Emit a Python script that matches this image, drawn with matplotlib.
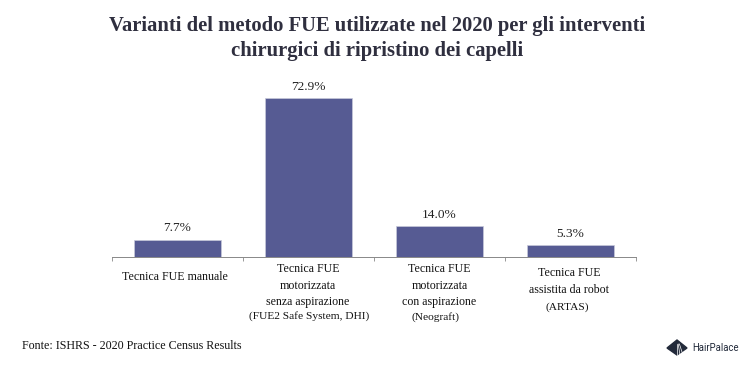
import matplotlib
matplotlib.use("Agg")
import matplotlib.pyplot as plt

categories = ["Tecnica FUE manuale",
              "Tecnica FUE\nmotorizzata\nsenza aspirazione",
              "Tecnica FUE\nmotorizzata\ncon aspirazione",
              "Tecnica FUE\nassistita da robot"]
notes = ["", "(FUE2 Safe System, DHI)", "(Neograft)", "(ARTAS)"]
values = [7.7, 72.9, 14.0, 5.3]
bar_color = "#565b93"

plt.rcParams['font.family'] = ['Liberation Serif', 'DejaVu Serif']

fig = plt.figure(figsize=(7.53, 3.69), dpi=100)
ax = fig.add_axes([112/753, 1-256.5/369, (636-112)/753, (256.5-85)/369])

x = list(range(len(values)))
ax.bar(x, values, width=0.665, color=bar_color, edgecolor="#c8c9da", linewidth=0.5)
for i, v in enumerate(values):
    ax.annotate("%.1f%%" % v, (i, v), xytext=(0, 3.8), textcoords="offset points",
                ha="center", va="bottom", fontsize=9.6, color="#222222")

ax.set_xlim(-0.5, 3.5)
ax.set_ylim(0, 78.8)
ax.set_yticks([])
ax.set_xticks([-0.5, 0.5, 1.5, 2.5, 3.5])
ax.set_xticklabels([])
ax.tick_params(axis='x', length=3, width=0.6, color="#888888")
for s in ['top', 'left', 'right']:
    ax.spines[s].set_visible(False)
ax.spines['bottom'].set_color("#888888")
ax.spines['bottom'].set_linewidth(0.7)

# pixel rows of the label blocks, by hand
label_x = [175, 308, 439.5, 569]
label_y = [271, 263.5, 263.5, 267.5]
note_x = [0, 309.5, 435.5, 567]
note_y = [0, 316.5, 317, 307]
for i, c in enumerate(categories):
    fig.text(label_x[i]/753, 1-label_y[i]/369, c, ha="center", va="top",
             fontsize=8.6, linespacing=1.5, color="#111111")
    if notes[i]:
        fig.text(note_x[i]/753, 1-note_y[i]/369, notes[i], ha="center", va="center",
                 fontsize=8.2, color="#111111")

fig.text(377/753, 1-26/369, "Varianti del metodo FUE utilizzate nel 2020 per gli interventi",
         ha="center", va="center", fontsize=14.9, fontweight="bold", color="#2f2f3f")
fig.text(377/753, 1-51/369, "chirurgici di ripristino dei capelli",
         ha="center", va="center", fontsize=14.9, fontweight="bold", color="#2f2f3f")
fig.text(22/753, 1-346/369, "Fonte: ISHRS - 2020 Practice Census Results", ha="left", va="center",
         fontsize=8.65, color="#111111")
fig.text(692/753, 1-348/369, "HairPalace", ha="left", va="center", fontsize=6.9,
         family="Roboto", color="#222a3a")

# logo
fig.add_artist(plt.Polygon([(667/753, 1-348/369), (677/753, 1-340/369), (687/753, 1-348/369), (677/753, 1-355/369)],
                           transform=fig.transFigure, color="#222a3a"))
for dx in [0, 3, 6]:
    fig.add_artist(plt.Line2D([(677+dx*0.4)/753, (677+dx)/753], [1-344/369, 1-355/369],
                              transform=fig.transFigure, color="white", linewidth=0.5))
fig.savefig("out.png", dpi=100)
